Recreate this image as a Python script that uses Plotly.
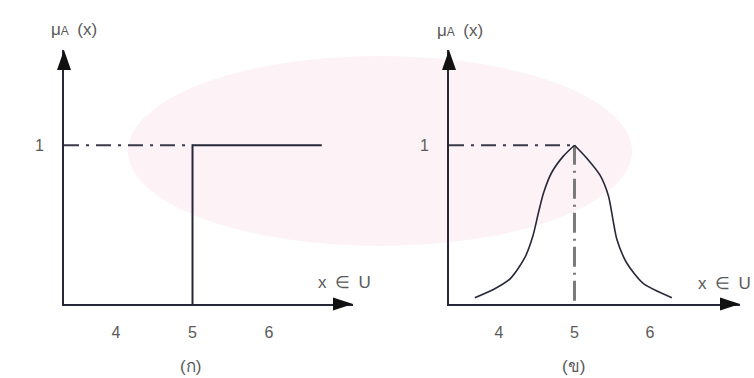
import plotly.graph_objects as go

# Crisp set A = {x | x >= 5}: membership jumps from 0 to 1 at x = 5
step_x = [5, 5, 6.69]
step_y = [0, 1, 1]

# Fuzzy set "about 5": bell-shaped membership grades (rising and falling flanks)
bell_left_x = [3.68, 3.92, 4.15, 4.34, 4.45, 4.52, 4.59, 4.70, 4.85, 5.00]
bell_left_y = [0.04, 0.09, 0.16, 0.29, 0.43, 0.57, 0.70, 0.83, 0.93, 1.00]
bell_right_x = [5.00, 5.16, 5.34, 5.45, 5.51, 5.56, 5.69, 5.91, 6.29]
bell_right_y = [1.00, 0.92, 0.81, 0.68, 0.53, 0.41, 0.26, 0.13, 0.04]

x_ticks = [4, 5, 6]
peak_x = 5
full_grade = 1

# axis extents (data units) for the two panels
left_xrange = [3.32, 7.098]
right_xrange = [3.338, 7.192]
yrange = [0, 1.6]

W, H = 754, 378
INK = "#26283a"
TEXT = "#5a5a5a"
FONT = "Liberation Sans, Arial, sans-serif"


def px(x):
    return x / W


def py(y):
    return 1 - y / H


left_dom = [px(64), px(353)]
right_dom = [px(449), px(740)]
y_dom = [py(304), py(50)]

fig = go.Figure()

# --- left panel: crisp set ---
fig.add_trace(go.Scatter(x=[left_xrange[0], peak_x], y=[full_grade, full_grade],
                         mode="lines", line=dict(color="#3a3a4a", width=2, dash="15px,7px,3px,7px"),
                         xaxis="x", yaxis="y", hoverinfo="skip"))
fig.add_trace(go.Scatter(x=step_x, y=step_y, mode="lines",
                         line=dict(color=INK, width=2), xaxis="x", yaxis="y"))

# --- right panel: fuzzy set ---
fig.add_trace(go.Scatter(x=[right_xrange[0], peak_x], y=[full_grade, full_grade],
                         mode="lines", line=dict(color="#3a3a4a", width=2, dash="15px,7px,3px,7px"),
                         xaxis="x2", yaxis="y2", hoverinfo="skip"))
fig.add_trace(go.Scatter(x=[peak_x, peak_x], y=[bell_left_y[0] - 0.02, full_grade], mode="lines",
                         line=dict(color="#7a7a7a", width=3, dash="20px,6px,2px,6px"),
                         xaxis="x2", yaxis="y2", hoverinfo="skip"))
for bx, by in ((bell_left_x, bell_left_y), (bell_right_x, bell_right_y)):
    fig.add_trace(go.Scatter(x=bx, y=by, mode="lines",
                             line=dict(color=INK, width=1.6, shape="spline", smoothing=0.7),
                             xaxis="x2", yaxis="y2"))

common_x = dict(showline=True, linecolor=INK, linewidth=2, showgrid=False, zeroline=False,
                tickvals=x_ticks, ticks="outside", ticklen=13, tickcolor="rgba(0,0,0,0)",
                tickfont=dict(family=FONT, size=16, color=TEXT), fixedrange=True)
common_y = dict(showline=True, linecolor=INK, linewidth=2, showgrid=False, zeroline=False,
                range=yrange, domain=y_dom,
                tickvals=[full_grade], ticktext=["1"], ticks="outside", ticklen=15,
                tickcolor="rgba(0,0,0,0)",
                tickfont=dict(family=FONT, size=16, color=TEXT), fixedrange=True)

fig.update_layout(
    width=W, height=H,
    margin=dict(l=0, r=0, t=0, b=0),
    paper_bgcolor="white", plot_bgcolor="rgba(0,0,0,0)",
    showlegend=False,
    xaxis=dict(common_x, domain=left_dom, range=left_xrange, anchor="y"),
    yaxis=dict(common_y, anchor="x"),
    xaxis2=dict(common_x, domain=right_dom, range=right_xrange, anchor="y2"),
    yaxis2=dict(common_y, anchor="x2"),
)

shapes = [
    # soft pink backdrop
    dict(type="circle", xref="paper", yref="paper", x0=px(128), x1=px(632), y0=py(246), y1=py(56),
         fillcolor="#fdf2f6", line=dict(width=0), layer="below"),
]
# arrowheads at the ends of every axis
for dom in (left_dom, right_dom):
    shapes.append(dict(type="path", xref="paper", yref="paper", xsizemode="pixel", ysizemode="pixel",
                       xanchor=dom[1], yanchor=y_dom[0], path="M0,0 L-20,6.5 L-20,-6.5 Z",
                       fillcolor="#111111", line=dict(width=0)))
    shapes.append(dict(type="path", xref="paper", yref="paper", xsizemode="pixel", ysizemode="pixel",
                       xanchor=dom[0], yanchor=y_dom[1], path="M0,0 L-7,-20 L7,-20 Z",
                       fillcolor="#111111", line=dict(width=0)))
fig.update_layout(shapes=shapes)

ann_font = dict(family=FONT, size=17, color=TEXT)
mu_label = "μ<span style='font-size:12px'>A</span>\u2002(x)"
set_label = "x\u2002∈\u2002U"
labels = [
    (74, 30, mu_label),
    (460, 31, mu_label),
    (344, 282, set_label),
    (724, 283, set_label),
    (190, 366, "(ก)"),
    (573, 366, "(ข)"),
]
for x, y, t in labels:
    fig.add_annotation(x=px(x), y=py(y), xref="paper", yref="paper", text=t,
                       showarrow=False, font=ann_font, xanchor="center", yanchor="middle")

fig.write_html("out.html")
